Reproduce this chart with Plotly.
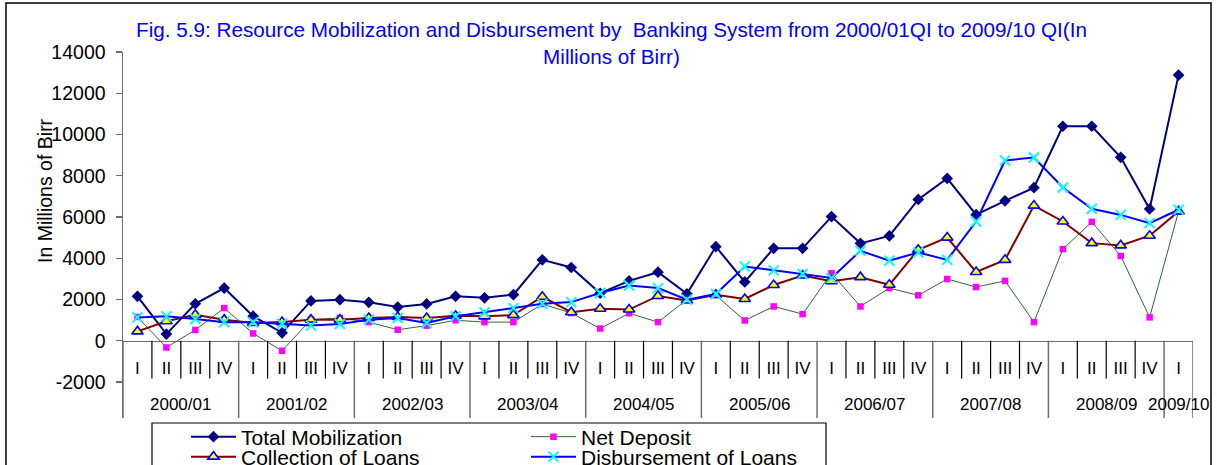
import plotly.graph_objects as go

# ---------------- data ----------------
years = ["2000/01", "2001/02", "2002/03", "2003/04", "2004/05",
         "2005/06", "2006/07", "2007/08", "2008/09", "2009/10"]
quarters_per_year = [4, 4, 4, 4, 4, 4, 4, 4, 4, 1]
quarter_names = ["I", "II", "III", "IV"]

total_mobilization = [2150, 320, 1790, 2550, 1190, 380, 1930, 1990,
                      1860, 1630, 1780, 2150, 2080, 2230, 3920, 3550,
                      2300, 2900, 3320, 2270, 4560, 2850, 4480, 4480,
                      6020, 4720, 5080, 6850, 7870, 6110, 6780, 7420,
                      10400, 10400, 8890, 6390, 12880]
net_deposit = [1150, -330, 520, 1580, 350, -490, 1020, 1100,
               900, 530, 730, 990, 900, 900, 1780, 1340,
               590, 1330, 900, 1990, 2200, 980, 1660, 1290,
               3270, 1660, 2550, 2200, 2990, 2600, 2900, 900,
               4440, 5760, 4110, 1130, 6260]
collection_of_loans = [450, 940, 1260, 1020, 860, 900, 1020, 1020,
                       1100, 1150, 1100, 1210, 1180, 1240, 2130, 1380,
                       1550, 1510, 2170, 1950, 2230, 2020, 2700, 3160,
                       2880, 3080, 2710, 4410, 5000, 3330, 3920, 6550,
                       5780, 4730, 4620, 5090, 6270]
disbursement_of_loans = [1130, 1180, 1050, 890, 890, 820, 730, 810,
                         1020, 1100, 860, 1180, 1370, 1580, 1790, 1870,
                         2310, 2680, 2550, 1990, 2260, 3600, 3410, 3230,
                         3040, 4360, 3880, 4280, 3920, 5780, 8740, 8880,
                         7430, 6400, 6100, 5700, 6350]

y_ticks = list(range(-2000, 14001, 2000))
y_tick_text = [str(v) for v in y_ticks]

title_text = ("Fig. 5.9: Resource Mobilization and Disbursement by  Banking System "
              "from 2000/01QI to 2009/10 QI(In<br>Millions of Birr)")

# ---------------- layout geometry ----------------
W, H = 1217, 465
L, R, T, B = 123, 24, 52, 47
pw, ph = W - L - R, H - T - B


def xp(px):
    return (px - L) / pw


def yp(py):
    return (H - B - py) / ph


FONT = "Liberation Sans, Arial, sans-serif"
y_min, y_max = -3750, 14000
zero_pos = (0 - y_min) / (y_max - y_min)

n = len(total_mobilization)
xs = list(range(n))
q_labels = [q for k in quarters_per_year for q in quarter_names[:k]]

fig = go.Figure()

fig.add_trace(go.Scatter(
    x=xs, y=total_mobilization, name="Total Mobilization", mode="lines+markers",
    line=dict(color="#000080", width=2),
    marker=dict(symbol="diamond", size=9, color="#000080"),
    legend="legend", cliponaxis=False))
fig.add_trace(go.Scatter(
    x=xs, y=net_deposit, name="Net Deposit", mode="lines+markers",
    line=dict(color="#336633", width=1),
    marker=dict(symbol="square", size=6.5, color="#FF00FF"),
    legend="legend", cliponaxis=False))
fig.add_trace(go.Scatter(
    x=xs, y=collection_of_loans, name="Collection of Loans", mode="lines+markers",
    line=dict(color="#800000", width=2),
    marker=dict(symbol="triangle-up", size=10, color="#FFFF00",
                line=dict(color="#0000FF", width=1.6)),
    legend="legend2", cliponaxis=False))
fig.add_trace(go.Scatter(
    x=xs, y=disbursement_of_loans, name="Disbursement of Loans", mode="lines+markers",
    line=dict(color="#0000FF", width=2),
    marker=dict(symbol="x-thin", size=10, color="#00FFFF",
                line=dict(color="#00FFFF", width=2)),
    legend="legend2", cliponaxis=False))

# separators of the category axis
shapes = []
bounds = [0]
for k in quarters_per_year:
    bounds.append(bounds[-1] + k)
for b in range(n + 1):
    if b in bounds:
        shapes.append(dict(type="line", xref="x", yref="paper", x0=b - 0.5, x1=b - 0.5,
                           y0=zero_pos, y1=0, line=dict(color="#6E6E6E", width=1.5)))
    else:
        shapes.append(dict(type="line", xref="x", yref="paper", x0=b - 0.5, x1=b - 0.5,
                           y0=zero_pos, y1=yp(378.5), line=dict(color="black", width=1.2)))

# outer border and legend box
shapes.append(dict(type="rect", xref="paper", yref="paper",
                   x0=xp(6), x1=xp(1211), y0=yp(480), y1=yp(3),
                   line=dict(color="black", width=1.5)))
shapes.append(dict(type="rect", xref="paper", yref="paper",
                   x0=xp(152), x1=xp(826), y0=yp(480), y1=yp(423),
                   line=dict(color="black", width=1.2)))

annotations = []
for i, (yr, k) in enumerate(zip(years, quarters_per_year)):
    center = bounds[i] + (k - 1) / 2
    annotations.append(dict(x=center, y=yp(404), xref="x", yref="paper",
                            text=yr, showarrow=False, yanchor="middle",
                            font=dict(family=FONT, size=17, color="black")))
annotations.append(dict(x=xp(45), y=yp(191), xref="paper", yref="paper",
                        text="In Millions of Birr", textangle=-90, showarrow=False,
                        xanchor="center", yanchor="middle",
                        font=dict(family=FONT, size=19.5, color="black")))
annotations.append(dict(x=xp(611), y=yp(43.5), xref="paper", yref="paper",
                        text=title_text, showarrow=False, align="center",
                        xanchor="center", yanchor="middle",
                        font=dict(family=FONT, size=20.7, color="#0000FF")))

fig.update_layout(
    width=W, height=H,
    margin=dict(l=L, r=R, t=T, b=B, pad=0, autoexpand=False),
    paper_bgcolor="white", plot_bgcolor="white",
    font=dict(family=FONT, color="black"),
    xaxis=dict(range=[-0.5, n - 0.5], anchor="free", position=zero_pos,
               tickmode="array", tickvals=xs, ticktext=q_labels, ticks="",
               showline=True, linecolor="#6E6E6E", linewidth=1.5,
               showgrid=False, zeroline=False, ticklabelstandoff=11,
               tickfont=dict(family=FONT, size=17, color="black")),
    yaxis=dict(range=[y_min, y_max], tickmode="array", tickvals=y_ticks,
               ticktext=y_tick_text,
               ticks="outside", ticklen=6, tickcolor="#6E6E6E", tickwidth=1.2,
               showline=True, linecolor="#6E6E6E", linewidth=1.5,
               showgrid=False, zeroline=False, ticklabelstandoff=6,
               tickfont=dict(family=FONT, size=19.5, color="black")),
    legend=dict(orientation="h", x=xp(186), xanchor="left", y=yp(437), yanchor="middle",
                entrywidth=280, entrywidthmode="pixels", itemwidth=45,
                bgcolor="rgba(0,0,0,0)", borderwidth=0,
                font=dict(family=FONT, size=21, color="black")),
    legend2=dict(orientation="h", x=xp(186), xanchor="left", y=yp(457), yanchor="middle",
                 entrywidth=280, entrywidthmode="pixels", itemwidth=45,
                 bgcolor="rgba(0,0,0,0)", borderwidth=0,
                 font=dict(family=FONT, size=21, color="black")),
    shapes=shapes,
    annotations=annotations,
    showlegend=True,
    hovermode=False,
)

fig.write_html("out.html", config={"displayModeBar": False, "staticPlot": True},
               post_script="document.body.style.margin='0';document.body.style.overflow='hidden';")
